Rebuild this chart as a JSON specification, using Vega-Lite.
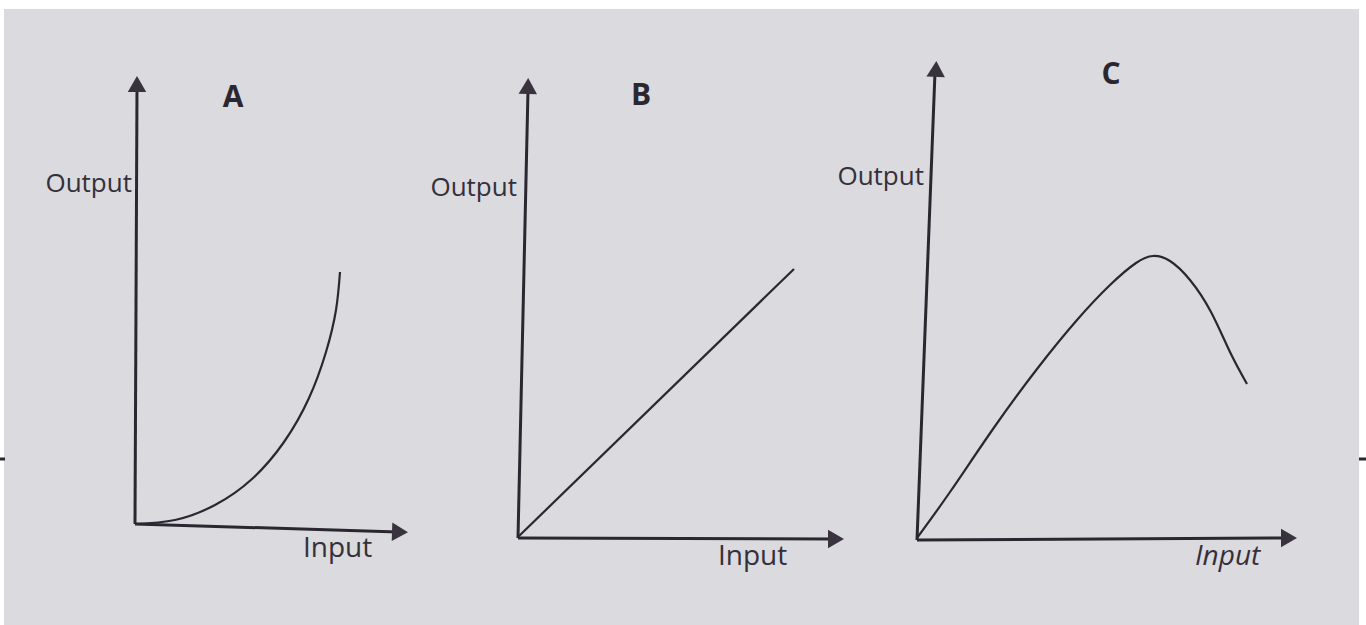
{
  "$schema": "https://vega.github.io/schema/vega-lite/v6.json",
  "width": 1366,
  "height": 625,
  "autosize": "none",
  "padding": 0,
  "background": "#ffffff",
  "config": {"view": {"stroke": null}},
  "datasets": {
    "paper": [{"x": 4, "x2": 1359, "y": 9, "y2": 625}],
    "axes": [
      {"seg": "A-y", "o": 0, "x": 135, "y": 524},
      {"seg": "A-y", "o": 1, "x": 137, "y": 88},
      {"seg": "A-x", "o": 0, "x": 135, "y": 524},
      {"seg": "A-x", "o": 1, "x": 398, "y": 532},
      {"seg": "B-y", "o": 0, "x": 518, "y": 538},
      {"seg": "B-y", "o": 1, "x": 528, "y": 90},
      {"seg": "B-x", "o": 0, "x": 518, "y": 538},
      {"seg": "B-x", "o": 1, "x": 834, "y": 539},
      {"seg": "C-y", "o": 0, "x": 917, "y": 540},
      {"seg": "C-y", "o": 1, "x": 935, "y": 72},
      {"seg": "C-x", "o": 0, "x": 917, "y": 540},
      {"seg": "C-x", "o": 1, "x": 1287, "y": 538},
      {"seg": "edge-l", "o": 0, "x": 0, "y": 459},
      {"seg": "edge-l", "o": 1, "x": 5, "y": 459},
      {"seg": "edge-r", "o": 0, "x": 1359, "y": 459},
      {"seg": "edge-r", "o": 1, "x": 1366, "y": 459}
    ],
    "curves": [
      {"panel": "A", "o": 0, "x": 135, "y": 524},
      {"panel": "A", "o": 1, "x": 175, "y": 520},
      {"panel": "A", "o": 2, "x": 215, "y": 505},
      {"panel": "A", "o": 3, "x": 252, "y": 479},
      {"panel": "A", "o": 4, "x": 284, "y": 442},
      {"panel": "A", "o": 5, "x": 309, "y": 398},
      {"panel": "A", "o": 6, "x": 326, "y": 352},
      {"panel": "A", "o": 7, "x": 336, "y": 310},
      {"panel": "A", "o": 8, "x": 340, "y": 272},
      {"panel": "B", "o": 0, "x": 518, "y": 537},
      {"panel": "B", "o": 1, "x": 794, "y": 269},
      {"panel": "C", "o": 0, "x": 917, "y": 538},
      {"panel": "C", "o": 1, "x": 950, "y": 492},
      {"panel": "C", "o": 2, "x": 993, "y": 429},
      {"panel": "C", "o": 3, "x": 1037, "y": 369},
      {"panel": "C", "o": 4, "x": 1077, "y": 320},
      {"panel": "C", "o": 5, "x": 1110, "y": 285},
      {"panel": "C", "o": 6, "x": 1136, "y": 263},
      {"panel": "C", "o": 7, "x": 1153, "y": 256},
      {"panel": "C", "o": 8, "x": 1170, "y": 261},
      {"panel": "C", "o": 9, "x": 1190, "y": 280},
      {"panel": "C", "o": 10, "x": 1211, "y": 312},
      {"panel": "C", "o": 11, "x": 1230, "y": 352},
      {"panel": "C", "o": 12, "x": 1247, "y": 384}
    ],
    "arrows": [
      {"dir": "up", "x": 137, "y": 84, "angle": 0},
      {"dir": "right", "x": 400, "y": 532, "angle": 2},
      {"dir": "up", "x": 528, "y": 86, "angle": 1.3},
      {"dir": "right", "x": 836, "y": 539, "angle": 0},
      {"dir": "up", "x": 936, "y": 69, "angle": 2.4},
      {"dir": "right", "x": 1289, "y": 538, "angle": 0}
    ],
    "outputs": [
      {"label": "Output", "x": 132, "y": 192},
      {"label": "Output", "x": 517, "y": 196},
      {"label": "Output", "x": 924, "y": 185}
    ],
    "inputs": [
      {"label": "Input", "x": 303, "y": 557},
      {"label": "Input", "x": 718, "y": 565}
    ],
    "inputsSlanted": [
      {"label": "Input", "x": 1195, "y": 565}
    ],
    "letters": [
      {"label": "A", "x": 233, "y": 107},
      {"label": "B", "x": 641, "y": 105},
      {"label": "C", "x": 1111, "y": 84}
    ]
  },
  "encoding": {
    "x": {"field": "x", "type": "quantitative", "scale": {"domain": [0, 1366], "nice": false, "zero": false}, "axis": null},
    "y": {"field": "y", "type": "quantitative", "scale": {"domain": [0, 625], "nice": false, "zero": false, "reverse": true}, "axis": null}
  },
  "layer": [
    {
      "data": {"name": "paper"},
      "mark": {"type": "rect", "fill": "#dadadf"},
      "encoding": {
        "x2": {"field": "x2"},
        "y2": {"field": "y2"}
      }
    },
    {
      "data": {"name": "axes"},
      "mark": {"type": "line", "color": "#2b2730", "strokeWidth": 3, "strokeCap": "butt"},
      "encoding": {
        "detail": {"field": "seg", "type": "nominal"},
        "order": {"field": "o", "type": "quantitative"}
      }
    },
    {
      "data": {"name": "curves"},
      "mark": {"type": "line", "color": "#2b2730", "strokeWidth": 2.2, "interpolate": "natural"},
      "encoding": {
        "detail": {"field": "panel", "type": "nominal"},
        "order": {"field": "o", "type": "quantitative"}
      }
    },
    {
      "data": {"name": "arrows"},
      "mark": {"type": "point", "filled": true, "color": "#38333d", "opacity": 1, "size": 340},
      "encoding": {
        "shape": {"field": "dir", "type": "nominal", "scale": {"domain": ["up", "right"], "range": ["triangle-up", "triangle-right"]}, "legend": null},
        "angle": {"field": "angle", "type": "quantitative", "scale": null}
      }
    },
    {
      "data": {"name": "outputs"},
      "mark": {"type": "text", "align": "right", "baseline": "alphabetic", "font": "Open Sans", "fontSize": 26, "color": "#34303a"},
      "encoding": {"text": {"field": "label"}}
    },
    {
      "data": {"name": "inputs"},
      "mark": {"type": "text", "align": "left", "baseline": "alphabetic", "font": "Open Sans", "fontSize": 28, "color": "#34303a"},
      "encoding": {"text": {"field": "label"}}
    },
    {
      "data": {"name": "inputsSlanted"},
      "mark": {"type": "text", "align": "left", "baseline": "alphabetic", "font": "Open Sans", "fontSize": 28, "fontStyle": "italic", "color": "#34303a"},
      "encoding": {"text": {"field": "label"}}
    },
    {
      "data": {"name": "letters"},
      "mark": {"type": "text", "align": "center", "baseline": "alphabetic", "font": "Open Sans", "fontSize": 30, "fontWeight": "bold", "color": "#2b2730"},
      "encoding": {"text": {"field": "label"}}
    }
  ]
}
